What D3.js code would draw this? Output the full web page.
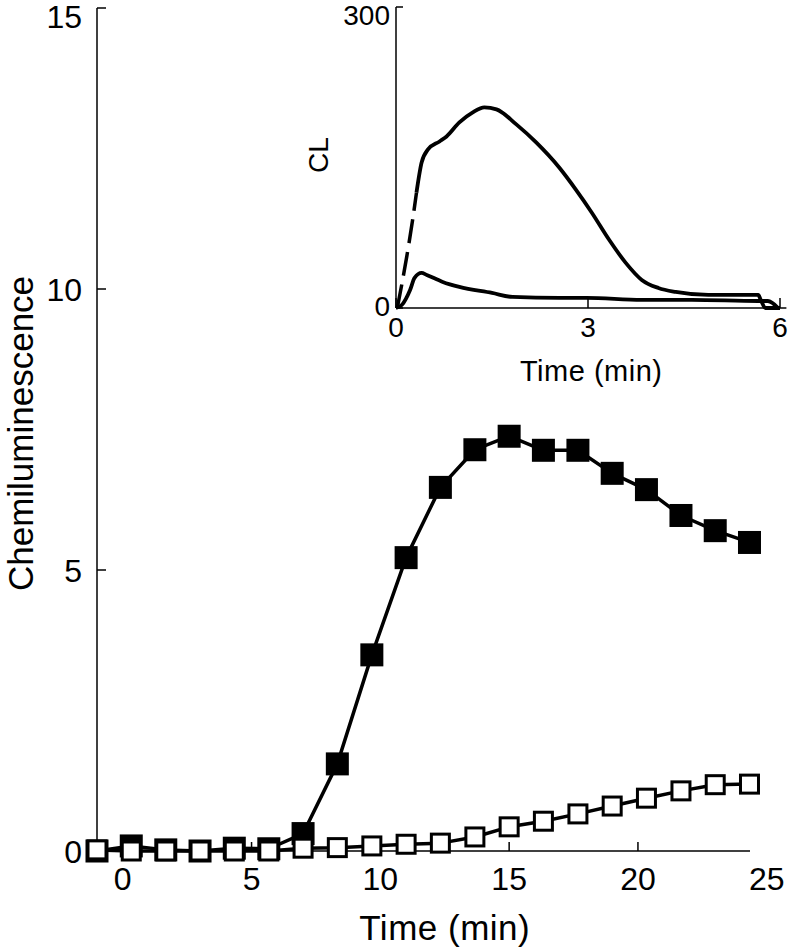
<!DOCTYPE html>
<html>
<head>
<meta charset="utf-8">
<script src="https://cdn.jsdelivr.net/npm/d3@7"></script>
<style>
  html, body { margin: 0; padding: 0; background: #fff; }
  svg { display: block; }
  text { font-family: "Liberation Sans", Arial, Helvetica, sans-serif; fill: #000; }
</style>
</head>
<body>
<svg id="chart" width="790" height="947"></svg>
<script>
// ---------- main chart data ----------
const times = [-1, 0.33, 1.67, 3, 4.33, 5.67, 7, 8.33, 9.67, 11, 12.33, 13.67, 15, 16.33, 17.67, 19, 20.33, 21.67, 23, 24.33];
const filledValues = [0.0, 0.09, 0.02, 0.0, 0.05, 0.04, 0.31, 1.55, 3.49, 5.22, 6.47, 7.14, 7.38, 7.13, 7.13, 6.72, 6.43, 5.97, 5.70, 5.49];
const openValues = [0.02, 0.0, 0.0, 0.0, 0.0, 0.0, 0.05, 0.06, 0.09, 0.12, 0.14, 0.25, 0.43, 0.53, 0.66, 0.80, 0.94, 1.07, 1.18, 1.19];
const xTickValues = [0, 5, 10, 15, 20, 25];
const yTickValues = [0, 5, 10, 15];
const xTitle = "Time (min)";
const yTitle = "Chemiluminescence";

// ---------- inset data ----------
const insetDashT = [0.02, 0.17, 0.26, 0.32];
const insetDashCL = [0, 52, 88, 115];
const insetBigT = [0.32, 0.40, 0.50, 0.68, 0.79, 0.99, 1.20, 1.38, 1.57, 1.88, 2.19, 2.55, 2.81, 3.06, 3.33, 3.59, 3.84, 4.10, 4.37, 4.88, 5.39, 5.66, 5.70, 5.77, 6.0];
const insetBigCL = [115, 145, 158, 166, 171, 185, 195, 200, 198, 183, 165, 140, 118, 95, 68, 45, 28, 20, 16, 13, 13, 13, 8, 0, 0];
const insetSmallT = [0.0, 0.09, 0.22, 0.29, 0.40, 0.48, 0.73, 0.99, 1.50, 1.82, 2.55, 2.98, 3.84, 4.62, 5.66, 5.81, 5.97];
const insetSmallCL = [0, 3, 18, 30, 35, 33, 26, 21, 15, 11, 10, 10, 8, 8, 7, 7, 0];
const insetXTicks = [0, 3, 6];
const insetYTicks = [0, 300];
const insetXTitle = "Time (min)";
const insetYTitle = "CL";

const svg = d3.select("#chart");
svg.append("rect").attr("width", 790).attr("height", 947).attr("fill", "#fff");

// ---------- main scales ----------
const x = d3.scaleLinear().domain([-1, 24.35]).range([97, 750]);
const y = d3.scaleLinear().domain([0, 15]).range([851, 8]);

const main = svg.append("g");

// axes lines
main.append("line").attr("x1", x(-1)).attr("x2", x(-1)).attr("y1", y(15)).attr("y2", y(0))
  .attr("stroke", "#000").attr("stroke-width", 1.5);
main.append("line").attr("x1", x(-1)).attr("x2", x(24.35)).attr("y1", y(0)).attr("y2", y(0))
  .attr("stroke", "#000").attr("stroke-width", 1.5);

// y ticks
main.selectAll(".ytick").data(yTickValues).join("line")
  .attr("x1", x(-1)).attr("x2", x(-1) + 9)
  .attr("y1", d => y(d)).attr("y2", d => y(d))
  .attr("stroke", "#000").attr("stroke-width", 1.5);
main.selectAll(".ylab").data(yTickValues).join("text")
  .attr("x", x(-1) - 15).attr("y", d => Math.max(y(d) + 12, 28))
  .attr("text-anchor", "end").attr("font-size", 32).text(d => d);

// x ticks (only within axis extent)
main.selectAll(".xtick").data(xTickValues.filter(d => d <= x.domain()[1])).join("line")
  .attr("x1", d => x(d)).attr("x2", d => x(d))
  .attr("y1", y(0)).attr("y2", y(0) - 9)
  .attr("stroke", "#000").attr("stroke-width", 1.5);
main.selectAll(".xlab").data(xTickValues).join("text")
  .attr("x", d => x(d)).attr("y", 890)
  .attr("text-anchor", "middle").attr("font-size", 32).text(d => d);

// titles
main.append("text").attr("x", x(12.5)).attr("y", 940).attr("text-anchor", "middle")
  .attr("font-size", 35).attr("letter-spacing", 0.5).text(xTitle);
main.append("text").attr("transform", `translate(33,${(y(0) + y(15)) / 2 + 4}) rotate(-90)`)
  .attr("text-anchor", "middle").attr("font-size", 35).text(yTitle);

// series lines
const line = d3.line().x(d => x(d[0])).y(d => y(d[1]));
const filledPts = times.map((t, i) => [t, filledValues[i]]);
const openPts = times.map((t, i) => [t, openValues[i]]);

main.append("path").attr("d", line(filledPts)).attr("fill", "none")
  .attr("stroke", "#000").attr("stroke-width", 3.5).attr("stroke-linejoin", "round");
main.selectAll(".fsq").data(filledPts).join("rect")
  .attr("x", d => x(d[0]) - 11.5).attr("y", d => y(d[1]) - 11.5)
  .attr("width", 23).attr("height", 23).attr("fill", "#000");

main.append("path").attr("d", line(openPts)).attr("fill", "none")
  .attr("stroke", "#000").attr("stroke-width", 3.5).attr("stroke-linejoin", "round");
main.selectAll(".osq").data(openPts).join("rect")
  .attr("x", d => x(d[0]) - 9).attr("y", d => y(d[1]) - 9)
  .attr("width", 18).attr("height", 18).attr("fill", "#fff")
  .attr("stroke", "#000").attr("stroke-width", 3);

// ---------- inset ----------
const xi = d3.scaleLinear().domain([0, 6]).range([396, 780]);
const yi = d3.scaleLinear().domain([0, 300]).range([308, 7]);
const inset = svg.append("g");

inset.append("line").attr("x1", xi(0)).attr("x2", xi(0)).attr("y1", yi(300)).attr("y2", yi(0))
  .attr("stroke", "#000").attr("stroke-width", 1.5);
inset.append("line").attr("x1", xi(0)).attr("x2", xi(6.1)).attr("y1", yi(0)).attr("y2", yi(0))
  .attr("stroke", "#000").attr("stroke-width", 1.5);
inset.selectAll(".iyt").data(insetYTicks).join("line")
  .attr("x1", xi(0)).attr("x2", xi(0) + 7).attr("y1", d => yi(d)).attr("y2", d => yi(d))
  .attr("stroke", "#000").attr("stroke-width", 1.5);
inset.selectAll(".ixt").data(insetXTicks).join("line")
  .attr("x1", d => xi(d)).attr("x2", d => xi(d)).attr("y1", yi(0)).attr("y2", yi(0) - 10)
  .attr("stroke", "#000").attr("stroke-width", 1.5);
inset.selectAll(".iyl").data(insetYTicks).join("text")
  .attr("x", xi(0) - 6).attr("y", d => Math.max(yi(d) + 8, 25))
  .attr("text-anchor", "end").attr("font-size", 28).text(d => d);
inset.selectAll(".ixl").data(insetXTicks).join("text")
  .attr("x", d => xi(d)).attr("y", 337)
  .attr("text-anchor", "middle").attr("font-size", 28).text(d => d);
inset.append("text").attr("x", xi(3.05)).attr("y", 381).attr("text-anchor", "middle")
  .attr("font-size", 29).attr("letter-spacing", 0.5).text(insetXTitle);
inset.append("text").attr("transform", `translate(328,155) rotate(-90)`)
  .attr("text-anchor", "middle").attr("font-size", 28).text(insetYTitle);

const iline = d3.line().x(d => xi(d[0])).y(d => yi(d[1])).curve(d3.curveMonotoneX);
inset.append("path").attr("d", iline(insetDashT.map((t, i) => [t, insetDashCL[i]])))
  .attr("fill", "none").attr("stroke", "#000").attr("stroke-width", 3.5)
  .attr("stroke-dasharray", "24,9");
inset.append("path").attr("d", iline(insetBigT.map((t, i) => [t, insetBigCL[i]])))
  .attr("fill", "none").attr("stroke", "#000").attr("stroke-width", 3.8).attr("stroke-linejoin", "round");
inset.append("path").attr("d", iline(insetSmallT.map((t, i) => [t, insetSmallCL[i]])))
  .attr("fill", "none").attr("stroke", "#000").attr("stroke-width", 3.8).attr("stroke-linejoin", "round");
</script>
</body>
</html>
